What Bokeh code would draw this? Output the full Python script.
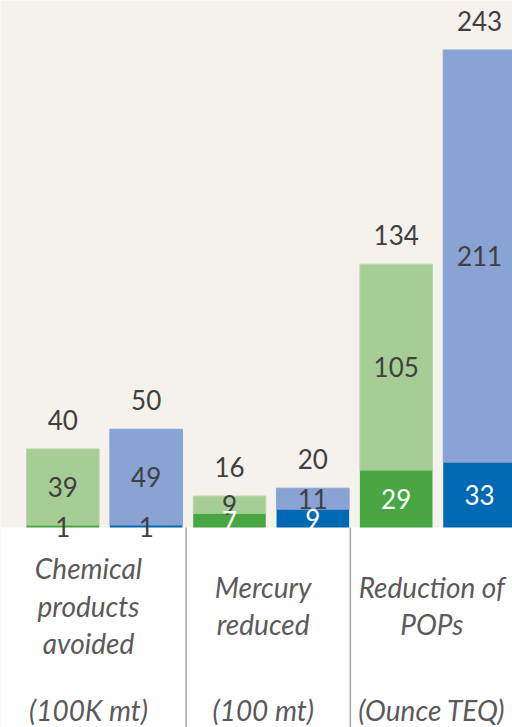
from bokeh.plotting import figure
from bokeh.models import Range1d, ColumnDataSource, BoxAnnotation
from bokeh.core.properties import value
from bokeh.embed import file_html
from bokeh.resources import INLINE

# ---------------- data ----------------
categories = ["Chemical products avoided", "Mercury reduced", "Reduction of POPs"]
category_lines = [["Chemical", "products", "avoided"], ["Mercury", "reduced"], ["Reduction of", "POPs"]]
category_units = ["(100K mt)", "(100 mt)", "(Ounce TEQ)"]
series = ["Series 1", "Series 2"]           # green, blue
base_values = [1, 1, 7, 9, 29, 33]          # dark lower segment
top_values = [39, 49, 9, 11, 105, 211]      # light upper segment
totals = [40, 50, 16, 20, 134, 243]         # label above bar

# ---------------- styles ----------------
BG = "#f5f2ed"
TXT = "#404040"
CAT_TXT = "#5a5a5a"
dark_colors = {"Series 1": "#48a742", "Series 2": "#0069b4"}
light_colors = {"Series 1": "#a6cd95", "Series 2": "#88a3d4"}
light_lines = {"Series 1": "#b9d9aa", "Series 2": "#88a3d4"}

n_ser = len(series)
xs = list(range(len(base_values)))
ser_of = [series[i % n_ser] for i in xs]

PX_PER_UNIT = 1.965
H, W = 727, 512
BASE_PX = 527
p = figure(width=W, height=H, output_backend="svg", toolbar_location=None,
           x_range=Range1d(-0.748, 5.396),
           y_range=Range1d(-(H - BASE_PX) / PX_PER_UNIT, BASE_PX / PX_PER_UNIT),
           min_border=0)
p.axis.visible = False
p.grid.visible = False
p.outline_line_color = None
p.background_fill_color = BG
p.border_fill_color = "white"
p.add_layout(BoxAnnotation(top=0, fill_color="white", fill_alpha=1, line_color=None, level="underlay"))

src = ColumnDataSource(dict(
    x=xs,
    base=base_values,
    top=top_values,
    total=totals,
    zero=[0] * len(xs),
    dark=[dark_colors[s] for s in ser_of],
    light=[light_colors[s] for s in ser_of],
    light_line=[light_lines[s] for s in ser_of],
    base_mid=[b / 2 for b in base_values],
    top_mid=[(b + t) / 2 for b, t in zip(base_values, totals)],
    base_txt=[str(v) for v in base_values],
    top_txt=[str(v) for v in top_values],
    total_txt=[str(v) for v in totals],
    base_col=["white" if v >= 5 else TXT for v in base_values],
))

W_BAR = 0.871
p.vbar(x="x", bottom="base", top="total", width=W_BAR, fill_color="light",
       line_color="light_line", line_width=1, source=src)
p.vbar(x="x", bottom="zero", top="base", width=W_BAR, fill_color="dark",
       line_color=None, source=src)

font = value("Lato")
NUM_SIZE = "26px"
p.text(x="x", y="total", text="total_txt", y_offset=-29, text_align="center",
       text_baseline="middle", text_font=font, text_font_size=NUM_SIZE,
       text_color=TXT, source=src)
p.text(x="x", y="top_mid", text="top_txt", text_align="center",
       text_baseline="middle", text_font=font, text_font_size=NUM_SIZE,
       text_color=TXT, source=src)
p.text(x="x", y="base_mid", text="base_txt", text_align="center",
       text_baseline="middle", text_font=font, text_font_size=NUM_SIZE,
       text_color="base_col", source=src)

# category labels below baseline
group_center = [sum(xs[g * n_ser:(g + 1) * n_ser]) / n_ser for g in range(len(categories))]
shift_px = [-16, -8, -6]
lx, ly, lt, loff, lxo = [], [], [], [], []
LINE_SP = 37.5
CENTER_OFF = 78
for g, lines in enumerate(category_lines):
    n = len(lines)
    for i, t in enumerate(lines):
        lx.append(group_center[g]); ly.append(0); lt.append(t)
        loff.append(CENTER_OFF + (i - (n - 1) / 2) * LINE_SP); lxo.append(shift_px[g])
    lx.append(group_center[g]); ly.append(0); lt.append(category_units[g])
    loff.append(182); lxo.append(shift_px[g])
lsrc = ColumnDataSource(dict(x=lx, y=ly, text=lt, yo=loff, xo=lxo))
p.text(x="x", y="y", text="text", x_offset="xo", y_offset="yo", text_align="center",
       text_baseline="middle", text_font=font, text_font_style="italic",
       text_font_size="28px", text_color=CAT_TXT, source=lsrc)

# separators between groups
sep_x = [1.48, 3.45]
p.segment(x0=sep_x, x1=sep_x, y0=[0, 0], y1=[-(H - BASE_PX) / PX_PER_UNIT] * 2,
          line_color="#a6a6a6", line_width=1.5)

open("out.html", "w").write(file_html(p, INLINE))
